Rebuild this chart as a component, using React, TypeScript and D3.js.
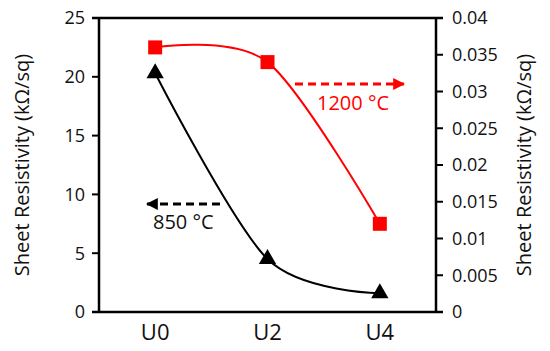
import React from "react";
import * as d3 from "d3";

const categories = ["U0", "U2", "U4"];
const black850 = [20.3, 4.5, 1.6];
const red1200 = [0.036, 0.034, 0.012];
const leftTicks = [0, 5, 10, 15, 20, 25];
const rightTicks = [0, 0.005, 0.01, 0.015, 0.02, 0.025, 0.03, 0.035, 0.04];

const W = 550, H = 351;
const m = { l: 99, r: 436, t: 18, b: 312 };
const FONT = "'Open Sans', sans-serif";

export default function App() {
  const x = d3.scalePoint<string>().domain(categories).range([m.l, m.r]).padding(0.5);
  const yL = d3.scaleLinear().domain([0, 25]).range([m.b, m.t]);
  const yR = d3.scaleLinear().domain([0, 0.04]).range([m.b, m.t]);
  const curve = d3.curveCardinal.tension(0.1);
  const lineB = d3.line<number>().x((_, i) => x(categories[i])!).y((d) => yL(d)).curve(curve);
  const lineR = d3.line<number>().x((_, i) => x(categories[i])!).y((d) => yR(d)).curve(curve);
  const tri = d3.symbol().type(d3.symbolTriangle).size(130)();

  return (
    <svg width={W} height={H} style={{ position: "absolute", left: 0, top: 0, background: "#fff" }} fontFamily={FONT}>
      <defs>
        <marker id="ahB" viewBox="0 0 10 10" refX="9" refY="5" markerWidth="4" markerHeight="4" orient="auto" markerUnits="strokeWidth">
          <path d="M0,0 L10,5 L0,10 z" fill="#000" />
        </marker>
        <marker id="ahR" viewBox="0 0 10 10" refX="9" refY="5" markerWidth="4" markerHeight="4" orient="auto" markerUnits="strokeWidth">
          <path d="M0,0 L10,5 L0,10 z" fill="#ff0000" />
        </marker>
      </defs>
      {/* frame */}
      <line x1={m.l - 7} x2={m.r + 7} y1={m.t} y2={m.t} stroke="#000" strokeWidth={2.5} />
      <line x1={m.l - 7} x2={m.r + 7} y1={m.b} y2={m.b} stroke="#000" strokeWidth={2.5} />
      <line x1={m.l} x2={m.l} y1={m.t} y2={m.b} stroke="#000" strokeWidth={2.5} />
      <line x1={m.r} x2={m.r} y1={m.t} y2={m.b} stroke="#000" strokeWidth={2.5} />
      {leftTicks.map((t) => (
        <g key={"l" + t}>
          <line x1={m.l - 7} x2={m.l} y1={yL(t)} y2={yL(t)} stroke="#000" strokeWidth={2} />
          <text x={m.l - 14} y={yL(t)} dy="0.35em" textAnchor="end" fontSize={18} fill="#111">{t}</text>
        </g>
      ))}
      {rightTicks.map((t) => (
        <g key={"r" + t}>
          <line x1={m.r} x2={m.r + 7} y1={yR(t)} y2={yR(t)} stroke="#000" strokeWidth={2} />
          <text x={m.r + 16} y={yR(t)} dy="0.35em" textAnchor="start" fontSize={18} fill="#111">{t}</text>
        </g>
      ))}
      {categories.map((c) => (
        <text key={c} x={x(c)} y={340} textAnchor="middle" fontSize={22} fill="#111">{c}</text>
      ))}
      <text transform={`translate(29,${(m.t + m.b) / 2}) rotate(-90)`} textAnchor="middle" fontSize={20} fill="#111">Sheet Resistivity (kΩ/sq)</text>
      <text transform={`translate(531,${(m.t + m.b) / 2}) rotate(-90)`} textAnchor="middle" fontSize={20} fill="#111">Sheet Resistivity (kΩ/sq)</text>

      <path d={lineB(black850)!} fill="none" stroke="#000" strokeWidth={2} />
      <path d={lineR(red1200)!} fill="none" stroke="#ff0000" strokeWidth={2} />
      {black850.map((v, i) => (
        <path key={"b" + i} d={tri!} transform={`translate(${x(categories[i])},${yL(v)})`} fill="#000" />
      ))}
      {red1200.map((v, i) => (
        <rect key={"s" + i} x={x(categories[i])! - 7} y={yR(v) - 7} width={14} height={14} fill="#ff0000" />
      ))}

      <line x1={220} x2={147} y1={204} y2={204} stroke="#000" strokeWidth={3} strokeDasharray="8 5" markerEnd="url(#ahB)" />
      <text x={153} y={229} fontSize={20} fill="#111">850 °C</text>
      <line x1={295} x2={404} y1={84} y2={84} stroke="#ff0000" strokeWidth={3} strokeDasharray="8 5" markerEnd="url(#ahR)" />
      <text x={317} y={110} fontSize={20} fill="#ff0000">1200 °C</text>
    </svg>
  );
}
